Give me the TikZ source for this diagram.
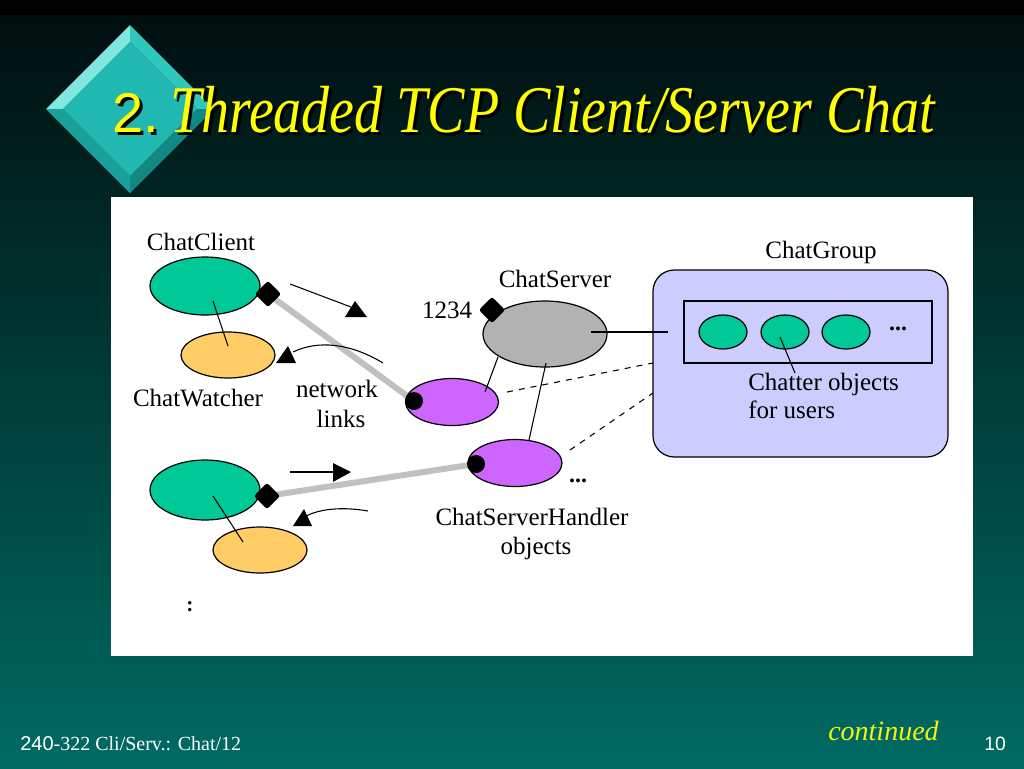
\documentclass[tikz,border=0pt]{standalone}
\usepackage{fontspec}
\setmainfont{Liberation Serif}
\newfontfamily\arialfont{Liberation Sans}
\usetikzlibrary{shapes.geometric,calc}
\definecolor{bgtop}{RGB}{0,14,14}
\definecolor{bgbot}{RGB}{0,107,99}
\definecolor{cgreen}{RGB}{0,200,150}
\definecolor{corange}{RGB}{255,204,102}
\definecolor{cpurple}{RGB}{204,102,255}
\definecolor{cgray}{RGB}{178,178,178}
\definecolor{clav}{RGB}{204,204,255}
\definecolor{linkgray}{RGB}{192,192,192}
\definecolor{dA}{RGB}{128,232,224}
\definecolor{dB}{RGB}{48,200,190}
\definecolor{dC}{RGB}{26,160,152}
\definecolor{dD}{RGB}{18,136,130}
\definecolor{dE}{RGB}{32,184,176}
\definecolor{titley}{RGB}{255,255,0}
\definecolor{conty}{RGB}{240,245,20}
\begin{document}
\begin{tikzpicture}[x=0.75pt,y=-0.75pt,
  lbl/.style={font=\fontsize{18.75}{22}\selectfont, anchor=base, inner sep=0},
  lbll/.style={font=\fontsize{18.75}{22}\selectfont, anchor=base west, inner sep=0},
  obj/.style={ellipse, draw=black, line width=0.9pt, inner sep=0},
  thin/.style={draw=black, line width=0.8pt},
  netlink/.style={draw=linkgray, line width=4.5pt},
  tri/.style={fill=black},
  dotd/.style={diamond, fill=black, inner sep=0, minimum width=20pt, minimum height=20pt, rounded corners=2pt},
  dotc/.style={circle, fill=black, inner sep=0, minimum size=13.5pt},
  dashlink/.style={draw=black, line width=0.8pt, dash pattern=on 4.5pt off 4.5pt}]
\useasboundingbox (0,0) rectangle (1024,768);
% background
\fill[black] (0,0) rectangle (1024,15);
\shade[top color=bgtop,bottom color=bgbot] (0,15) rectangle (1024,768);
% bevelled diamond
\coordinate (DT) at (130,25); \coordinate (DL) at (46,109);
\coordinate (DB) at (130,193); \coordinate (DR) at (214,109);
\coordinate (dt) at (130,42); \coordinate (dl) at (63,109);
\coordinate (db) at (130,176); \coordinate (dr) at (197,109);
\fill[dA] (DT)--(DL)--(dl)--(dt)--cycle;
\fill[dB] (DT)--(DR)--(dr)--(dt)--cycle;
\fill[dC] (DL)--(DB)--(db)--(dl)--cycle;
\fill[dD] (DB)--(DR)--(dr)--(db)--cycle;
\fill[dE] (dt)--(dl)--(db)--(dr)--cycle;
% title (with drop shadow)
\node[anchor=base west, inner sep=0, text=black] (t1s) at (115,135) {\arialfont\fontsize{42}{48}\selectfont 2.};
\node[anchor=base west, inner sep=0, text=titley] (t1) at (112,132) {\arialfont\fontsize{42}{48}\selectfont 2.};
\node[anchor=base west, inner sep=0, text=black] (t2s) at (173,135) {\scalebox{0.84}[1]{\fontsize{50}{58}\selectfont\itshape Threaded TCP Client/Server Chat}};
\node[anchor=base west, inner sep=0, text=titley] (t2) at (170,132) {\scalebox{0.84}[1]{\fontsize{50}{58}\selectfont\itshape Threaded TCP Client/Server Chat}};
% white panel
\fill[white] (111,197) rectangle (973,656);
% ChatGroup box
\node[draw=black, line width=0.9pt, fill=clav, rounded corners=16pt, minimum width=221.25pt, minimum height=140.25pt, inner sep=0] (grp) at (800.5,363.5) {};
\node[draw=black, line width=0.9pt, fill=clav, minimum width=186pt, minimum height=46.5pt, inner sep=0] (inner) at (808,332) {};
\node[obj, fill=cgreen, minimum width=36pt, minimum height=25.5pt] (u1) at (723,332) {};
\node[obj, fill=cgreen, minimum width=36pt, minimum height=25.5pt] (u2) at (785,332) {};
\node[obj, fill=cgreen, minimum width=36pt, minimum height=25.5pt] (u3) at (846,332) {};
\node[lbl, font=\fontsize{18}{20}\selectfont\bfseries] (udots) at (898,330) {...};
\node[lbl] (grplbl) at (821,258) {ChatGroup};
\node[lbll] (chat1) at (748,390) {Chatter objects};
\node[lbll] (chat2) at (748,418) {for users};
\coordinate (chatpt) at (795,373);
\draw[thin] ($(u2)+(-5,5)$) -- (chatpt);
% network links (gray)
\coordinate (p1) at (268,294);
\coordinate (p2) at (414,401);
\coordinate (p3) at (267,496);
\coordinate (p4) at (476,464);
\draw[netlink] (p1) -- (p2);
\draw[netlink] (p3) -- (p4);
% server objects
\node[obj, fill=cgray, minimum width=93pt, minimum height=49.5pt] (srv) at (545,334) {};
\node[obj, fill=cpurple, minimum width=69.75pt, minimum height=35.25pt] (h1) at (452,402) {};
\node[obj, fill=cpurple, minimum width=70.5pt, minimum height=35.25pt] (h2) at (515,463) {};
\coordinate (grpin) at (668,332);
\draw[thin] ($(srv)+(46,-2)$) -- (grpin);
\draw[thin] ($(srv)+(-47,23)$) -- ($(h1)+(33,-10)$);
\draw[thin] ($(srv)+(1,29)$) -- ($(h2)+(14,-23)$);
\coordinate (ga) at (653,363);
\coordinate (gb) at (653,393);
\draw[dashlink] ($(h1)+(55,-10)$) -- (ga);
\draw[dashlink] ($(h2)+(55,-13)$) -- (gb);
\node[lbl] (srvlbl) at (555,287) {ChatServer};
\node[lbl] (port) at (447,318) {1234};
\node[dotd] (pd) at (492,310) {};
\node[dotc] (d2) at (p2) {};
\node[dotc] (d4) at (p4) {};
\node[lbl, font=\fontsize{18}{20}\selectfont\bfseries] (hdots) at (578,482) {...};
\node[lbl] (hl1) at (532,525) {ChatServerHandler};
\node[lbl] (hl2) at (536,554) {objects};
% client 1
\node[obj, fill=cgreen, minimum width=82.5pt, minimum height=43.5pt] (cc) at (205,286) {};
\node[obj, fill=corange, minimum width=70.5pt, minimum height=34.5pt] (cw) at (228,355) {};
\draw[thin] ($(cc)+(8,15)$) -- ($(cw)+(0,-9)$);
\node[dotd] (d1) at (p1) {};
\node[lbl] (cclbl) at (201,250) {ChatClient};
\node[lbl] (cwlbl) at (198,406) {ChatWatcher};
\node[lbl] (nl1) at (337,397) {network};
\node[lbl] (nl2) at (341,427) {links};
% client 1 arrows
\coordinate (a1s) at (290,284);
\coordinate (a1e) at (351,307);
\draw[thin] (a1s) -- (a1e);
\fill[tri] (355,301) -- (345,317) -- (367,317) -- cycle;
\coordinate (a2s) at (383,363);
\coordinate (a2e) at (293,352);
\draw[thin] (a2s) .. controls (350,343) and (318,340) .. (a2e);
\fill[tri] (288,346) -- (276,363) -- (296,363) -- cycle;
% client 2
\node[obj, fill=cgreen, minimum width=82.5pt, minimum height=45pt] (cc2) at (205,490) {};
\node[obj, fill=corange, minimum width=70.5pt, minimum height=34.5pt] (cw2) at (260,550) {};
\draw[thin] ($(cc2)+(8,6)$) -- ($(cw2)+(-17,-8)$);
\node[dotd] (d3) at (p3) {};
\coordinate (a3s) at (290,472);
\coordinate (a3e) at (335,472);
\draw[thin] (a3s) -- (a3e);
\fill[tri] (333,463) -- (333,482) -- (351,472) -- cycle;
\coordinate (a4s) at (368,511);
\coordinate (a4e) at (306,516);
\draw[thin] (a4s) .. controls (345,507) and (322,508) .. (a4e);
\fill[tri] (304,509) -- (293,526) -- (312,526) -- cycle;
\node[lbl, font=\fontsize{16}{18}\selectfont\bfseries] (more) at (190,611) {:};
% footer
\node[anchor=base west, inner sep=0, text=white] (foot) at (20,750) {\fontsize{15}{18}\selectfont{\arialfont 240}-322 Cli/Serv.: Chat/12};
\node[anchor=base west, inner sep=0, text=conty] (cont) at (828,740) {\fontsize{21}{24}\selectfont\itshape continued};
\node[anchor=base west, inner sep=0, text=white] (pg) at (984,750) {\arialfont\fontsize{14.5}{17}\selectfont 10};
\end{tikzpicture}
\end{document}
